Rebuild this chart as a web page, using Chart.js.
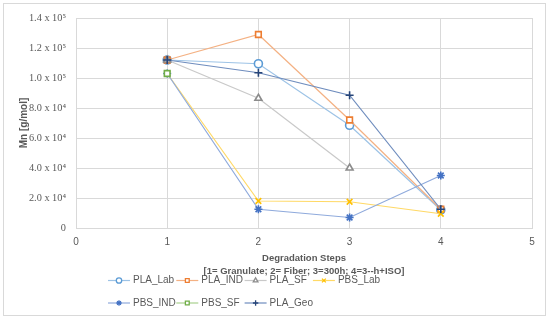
<!DOCTYPE html>
<html><head><meta charset="utf-8">
<script src="https://cdn.jsdelivr.net/npm/chart.js@4.4.1/dist/chart.umd.min.js"></script>
<style>html,body{margin:0;padding:0;background:#fff}#wrap{width:550px;height:320px;position:relative}</style>
</head><body><div id="wrap"><canvas id="c" width="550" height="320"></canvas></div>
<script>
const steps = [1, 2, 3, 4];
const seriesNames = ["PLA_Lab", "PLA_IND", "PLA_SF", "PBS_Lab", "PBS_IND", "PBS_SF", "PLA_Geo"];
const PLA_Lab = [112000, 109500, 68500, 12000];
const PLA_IND = [112000, 129000, 72000, 12500];
const PLA_SF  = [112000, 86500, 40000, null];
const PBS_Lab = [103000, 18000, 17500, 9500];
const PBS_IND = [103000, 12500, 7000, 35000];
const PBS_SF  = [103000, null, null, null];
const PLA_Geo = [112000, 103500, 88500, 12500];
const yTickLabels = ["0", "2.0 x 10\u2074", "4.0 x 10\u2074", "6.0 x 10\u2074", "8.0 x 10\u2074", "1.0 x 10\u2075", "1.2 x 10\u2075", "1.4 x 10\u2075"];
const xTitle = ["Degradation Steps", "[1= Granulate; 2= Fiber; 3=300h; 4=3--h+ISO]"];
const yTitle = "Mn [g/mol]";

const values = [PLA_Lab, PLA_IND, PLA_SF, PBS_Lab, PBS_IND, PBS_SF, PLA_Geo];
const lineColors = ["#9DC3E6", "#F4B183", "#C9C9C9", "#FFD966", "#8FAADC", "#A9D18E", "#6F8DBE"];
const markColors = ["#5B9BD5", "#ED7D31", "#8C8C8C", "#FFC000", "#4472C4", "#70AD47", "#264478"];
const markStyles = ["circle", "rect", "triangle", "crossRot", "star", "rect", "cross"];

const datasets = seriesNames.map((name, i) => ({
  label: name,
  data: steps.map((s, j) => ({x: s, y: values[i][j]})),
  borderColor: lineColors[i],
  borderWidth: 1.2,
  pointStyle: markStyles[i],
  pointRadius: 4,
  pointBorderColor: markColors[i],
  pointBackgroundColor: "#ffffff",
  pointBorderWidth: 1.6,
  spanGaps: false,
  order: seriesNames.length - i,
  fill: false,
  tension: 0
}));

const frame = {
  id: "frame",
  beforeDraw(chart) {
    const ctx = chart.ctx;
    ctx.save();
    ctx.fillStyle = "#fff";
    ctx.fillRect(0, 0, chart.width, chart.height);
    ctx.strokeStyle = "#D9D9D9";
    ctx.lineWidth = 1;
    ctx.strokeRect(3.5, 3.5, 542, 312);
    ctx.restore();
  },
  afterDraw(chart) {
    const ctx = chart.ctx;
    ctx.save();
    ctx.font = "10px 'Liberation Sans', Arial, sans-serif";
    ctx.textBaseline = "middle";
    ctx.textAlign = "left";
    chart.data.datasets.forEach((ds, i) => {
      const col = i % 4, row = Math.floor(i / 4);
      const x0 = 108 + col * 68.3;
      const y = 280.5 + row * 22.5;
      ctx.strokeStyle = ds.borderColor;
      ctx.lineWidth = 1.2;
      ctx.beginPath(); ctx.moveTo(x0, y); ctx.lineTo(x0 + 22, y); ctx.stroke();
      ctx.strokeStyle = ds.pointBorderColor;
      ctx.fillStyle = "#fff";
      ctx.lineWidth = 1.3;
      Chart.helpers.drawPoint(ctx, {pointStyle: ds.pointStyle, rotation: 0, radius: 2.7, borderWidth: 1.3}, x0 + 11, y);
      ctx.fillStyle = "#595959";
      ctx.fillText(ds.label, x0 + 25, y);
    });
    ctx.restore();
  }
};

new Chart(document.getElementById("c"), {
  type: "line",
  data: {datasets},
  plugins: [frame],
  options: {
    responsive: false,
    animation: false,
    layout: {padding: {left: 0, right: 18, top: 18, bottom: 42}},
    plugins: {legend: {display: false}, tooltip: {enabled: false}},
    scales: {
      x: {
        type: "linear", min: 0, max: 5,
        afterFit(s) { s.height = 50; },
        ticks: {stepSize: 1, padding: 8, color: "#595959", font: {family: "'Liberation Sans', Arial, sans-serif", size: 10}},
        grid: {color: "#D9D9D9", drawTicks: false},
        border: {color: "#D9D9D9"},
        title: {display: true, text: xTitle, color: "#595959", padding: {top: 0, bottom: 0},
          font: {family: "'Liberation Sans', Arial, sans-serif", size: 9.5, weight: "bold", lineHeight: 1.38}}
      },
      y: {
        min: 0, max: 140000,
        afterFit(s) { s.width = 76; },
        ticks: {stepSize: 20000, padding: 10, color: "#595959",
          font: {family: "'Liberation Serif', 'DejaVu Serif', serif", size: 10.3},
          callback: (v) => yTickLabels[Math.round(v / 20000)]},
        grid: {color: "#D9D9D9", drawTicks: false},
        border: {color: "#D9D9D9"},
        title: {display: true, text: yTitle, color: "#595959", padding: {top: 18, bottom: 0},
          font: {family: "'Liberation Sans', Arial, sans-serif", size: 10, weight: "bold", lineHeight: 1.3}}
      }
    }
  }
});
</script></body></html>
